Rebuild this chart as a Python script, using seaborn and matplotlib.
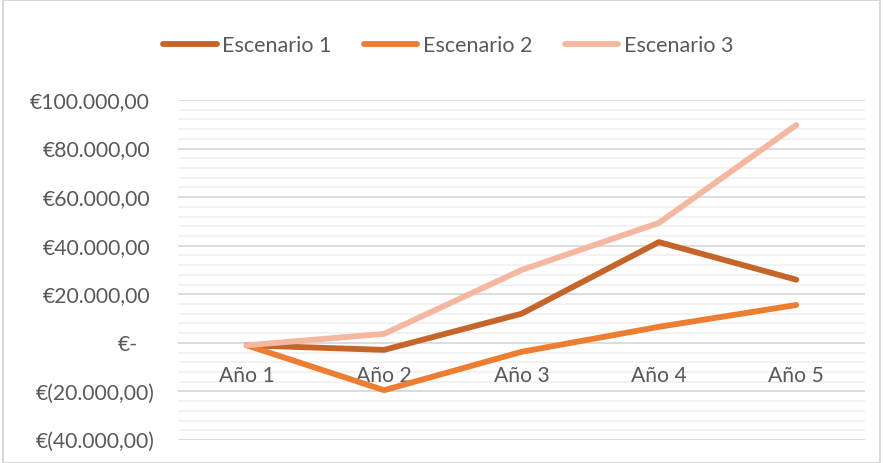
import matplotlib
matplotlib.use("Agg")
import matplotlib.pyplot as plt
import matplotlib.transforms as mtransforms
from matplotlib.patches import Rectangle
from matplotlib.lines import Line2D
import numpy as np
import pandas as pd
import seaborn as sns

years = ["Año 1", "Año 2", "Año 3", "Año 4", "Año 5"]
escenario_1 = [-1000, -2900, 12000, 41500, 26000]
escenario_2 = [-1000, -19500, -3700, 6600, 15600]
escenario_3 = [-1000, 3700, 30000, 49400, 89700]
series_names = ["Escenario 1", "Escenario 2", "Escenario 3"]
colors = ["#C5652A", "#ED7D31", "#F4B7A0"]
y_ticks = [-40000, -20000, 0, 20000, 40000, 60000, 80000, 100000]

df = pd.DataFrame({
    "Año": years * 3,
    "Valor": escenario_1 + escenario_2 + escenario_3,
    "Serie": [s for s in series_names for _ in years],
})

sns.set_theme(style="white")
plt.rcParams["font.family"] = ["Lato", "DejaVu Sans"]

fig = plt.figure(figsize=(8.83, 4.63), dpi=100)
ax = fig.add_axes([178 / 883, 1 - 440 / 463, 687 / 883, 340 / 463])

sns.lineplot(data=df, x="Año", y="Valor", hue="Serie", palette=colors,
             sort=False, linewidth=4.2, ax=ax, legend=False,
             solid_capstyle="round", solid_joinstyle="round", zorder=3)

ax.set_xlim(-0.5, len(years) - 0.5)
ax.set_ylim(-40000, 100000)
ax.set_xlabel("")
ax.set_ylabel("")
ax.set_axisbelow(False)

# minor and major horizontal gridlines
for v in np.arange(-40000, 100001, 4000):
    major = v % 20000 == 0
    ax.axhline(v, color="#D9D9D9" if major else "#F0F0F0",
               lw=1.3 if major else 1.2, zorder=0.2)

for s in ax.spines.values():
    s.set_visible(False)

# category labels sit just below the zero line
ax.spines["bottom"].set_position(("data", 0))
ax.set_xticks(range(len(years)))
ax.set_xticklabels(years)
ax.tick_params(axis="x", length=0, pad=17, labelsize=15.2, labelcolor="#595959")

def euro(v):
    if v == 0:
        return "€-"
    s = f"{abs(v):,.2f}".replace(",", "X").replace(".", ",").replace("X", ".")
    return f"€({s})" if v < 0 else f"€{s}"

ax.set_yticks(y_ticks)
ax.set_yticklabels([euro(v) for v in y_ticks])
ax.tick_params(axis="y", length=0, pad=0, labelsize=15.2, labelcolor="#595959")
for v, lab in zip(y_ticks, ax.get_yticklabels()):
    shift = -40 if v == 0 else (-28 if v > 0 else -23)
    lab.set_transform(lab.get_transform() +
                      mtransforms.ScaledTranslation(shift / 100, 0, fig.dpi_scale_trans))

handles = [Line2D([], [], color=c, lw=4.2, solid_capstyle="round") for c in colors]
fig.legend(handles, series_names, loc="center", bbox_to_anchor=(448 / 883, 1 - 46 / 463),
           ncol=3, frameon=False, fontsize=15.5, handlelength=2.5,
           handletextpad=0.25, columnspacing=1.5, labelcolor="#595959")

fig.patches.append(Rectangle((3 / 883, 0), 1 - 6 / 883, 1, transform=fig.transFigure,
                             fill=False, edgecolor="#D9D9D9", lw=1.5))

fig.savefig("out.png", dpi=100)
